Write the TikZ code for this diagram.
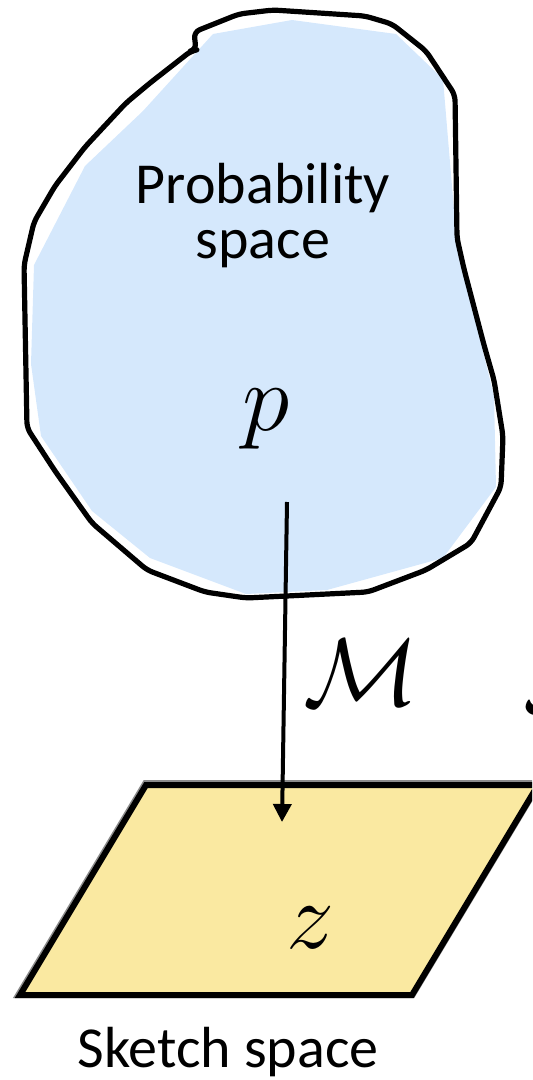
\RequirePackage{fix-cm}
\documentclass[tikz,border=0pt]{standalone}
\usepackage{fontspec}
\setsansfont{Carlito}
\usetikzlibrary{arrows.meta}
\definecolor{probblue}{HTML}{D5E8FC}
\definecolor{sketchyellow}{HTML}{FAE9A1}

\begin{document}
\begin{tikzpicture}[x=.5pt,y=-.5pt,>={Triangle[length=9pt,width=9pt]},
  lbl/.style={font=\sffamily\fontsize{29}{27.5}\selectfont,align=center,inner sep=0pt},
  sym/.style={font=\fontsize{48}{58}\selectfont,inner sep=0pt}]
  \clip (0,0) rectangle (532,1080);
  % probability space
  \fill[probblue] (213,34) -- (292,20) -- (396,34) -- (443,79) -- (457,246) -- (494,396)
    -- (496,487) -- (443,558) -- (327,590) -- (246,594) -- (150,558) -- (92,511)
    -- (41,436) -- (31,364) -- (34,265) -- (85,166) -- (143,111) -- cycle;
  \draw[line width=2.6pt,line join=round,rounded corners=3pt] (273,10) -- (365,16) -- (392,24)
    -- (426,51) -- (455,95) -- (457,238) -- (464,269) -- (484,345) -- (494,380) -- (503,436)
    -- (501,487) -- (471,543) -- (426,570) -- (368,592) -- (246,598) -- (205,592) -- (147,570)
    -- (92,523) -- (55,471) -- (27,428) -- (24,265) -- (34,222) -- (55,186) -- (85,147)
    -- (126,103) -- (150,83) -- (191,51) -- (196,50) -- (194,32) -- (239,14) -- cycle;
  \node[lbl] (prob) at (263,216) {Probability\\space};
  \node[sym,anchor=base] (p) at (266,430) {$p$};
  % sketch space
  \draw[line width=4pt,draw=black!45,line join=miter] (146,784) -- (538,784) -- (412,994) -- (20,994) -- cycle;
  \fill[sketchyellow] (146,785) -- (538,785) -- (412,995) -- (20,995) -- cycle;
  \draw[line width=3pt,line join=miter] (146,785) -- (538,785) -- (412,995) -- (20,995) -- cycle;
  \node[sym,anchor=base] (z) at (310,948) {$z$};
  \node[lbl,anchor=base] (sketch) at (228,1067) {Sketch space};
  % map
  \coordinate (src) at (287,502);
  \coordinate (dst) at (282,822);
  \draw[->,line width=2pt] (src) -- (dst);
  \node[sym,anchor=base west] (mech) at (303,705) {$\mathcal{M}$};
  \node[sym,anchor=base west] (alg) at (523,710) {$\mathcal{A}$};
\end{tikzpicture}
\end{document}
